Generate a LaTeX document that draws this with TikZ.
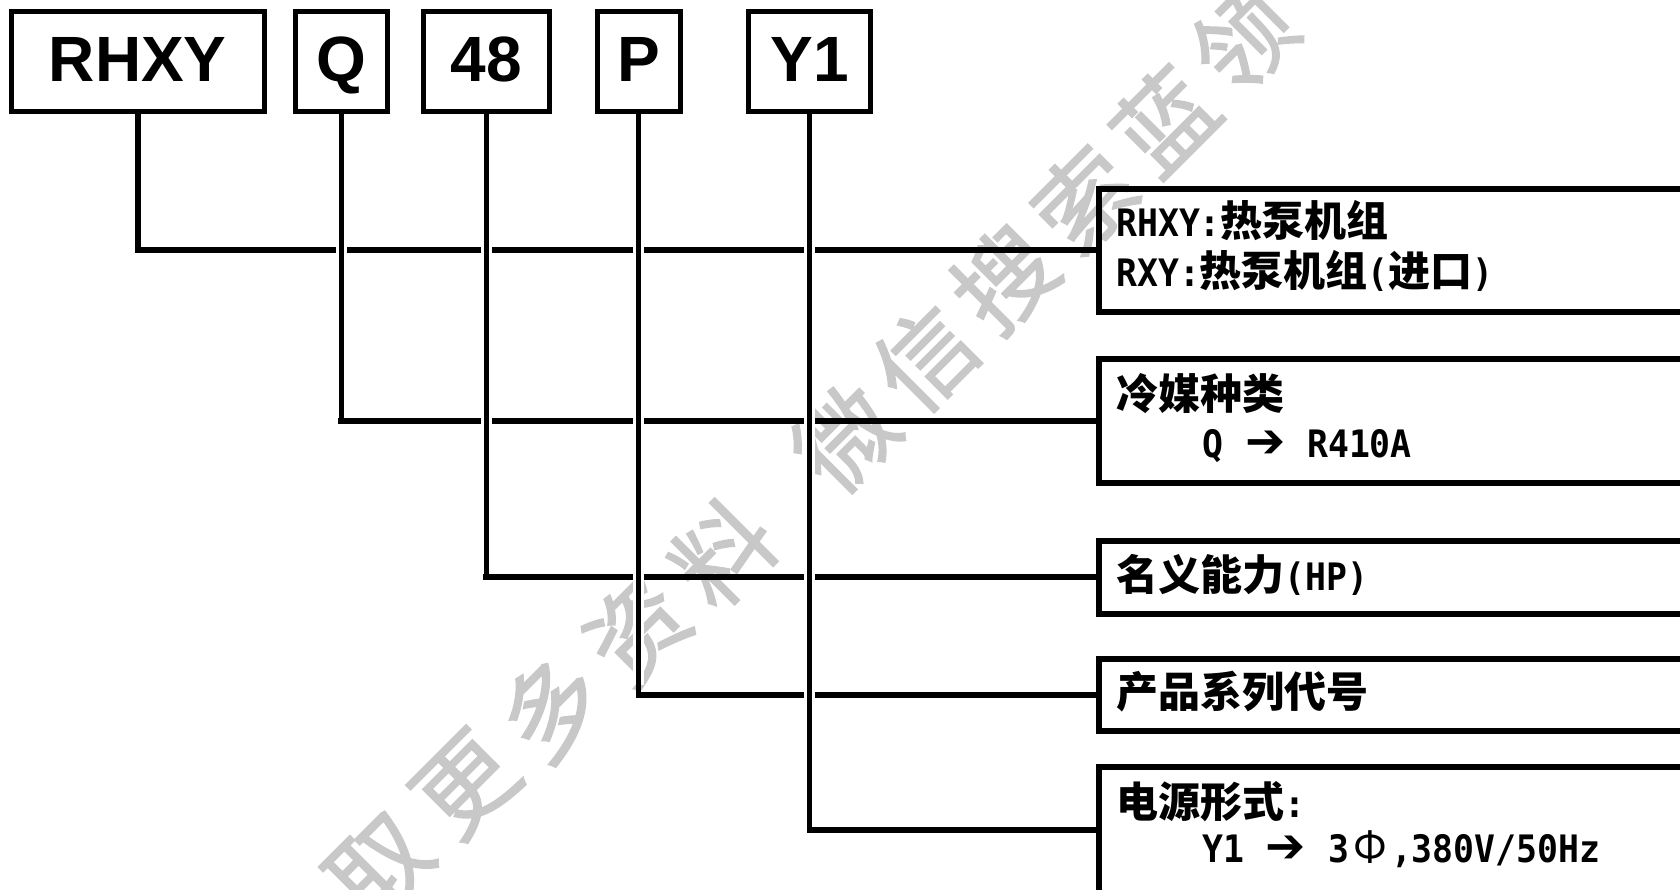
\documentclass[tikz,border=0pt]{standalone}
\usepackage{fontspec}
\setmainfont{Noto Sans CJK SC}
\newfontfamily\cjk{Noto Sans CJK SC}
\newfontfamily\wmfont[FakeBold=1.5]{Noto Sans CJK SC}
\newfontfamily\mlat[Scale=0.9,FakeStretch=0.92]{DejaVu Sans Mono}
\newfontfamily\djv{DejaVu Sans}
\newfontfamily\hdr{Liberation Sans}
\definecolor{wmgray}{RGB}{200,200,200}
\newcommand\mylat[1]{{\mlat\bfseries #1}}
\newcommand\myarrow{\makebox[42pt][c]{\djv\bfseries\fontsize{48}{48}\selectfont ➔}}
\newcommand\myphi{\makebox[42pt][c]{\cjk\mdseries Φ}}
\newcommand\hcol{\hspace{21pt}}
\tikzset{
  codebox/.style={draw, line width=5pt, minimum height=100pt, inner sep=0pt,
    text height=46pt, text depth=6pt,
    font=\hdr\bfseries\fontsize{64}{64}\selectfont},
  descbox/.style={draw, line width=6pt, anchor=west, minimum width=700pt, inner sep=0pt},
  desc/.style={anchor=base west, inner sep=0pt, font=\cjk\bfseries\fontsize{42}{42}\selectfont},
  vlink/.style={line width=5.5pt, line cap=rect},
  hlink/.style={line width=6pt, line cap=rect},
  halo/.style={white, line width=11pt},
  wmark/.style={text=wmgray, font=\wmfont\fontsize{98}{98}\selectfont, rotate=45, inner sep=0pt},
}
\begin{document}
\begin{tikzpicture}[x=1pt,y=-1pt]
\useasboundingbox (0,0) rectangle (1680,890);
\clip (0,0) rectangle (1680,890);
\fill[white] (0,0) rectangle (1680,890);

% watermark
\foreach \ch/\px/\py [count=\k] in {取/380/866,更/466/785,多/551/708,资/637/630,料/723/553,
    微/845/438,信/925/358,搜/1004/279,索/1084/199,蓝/1164/120,领/1243/40}
  \node[wmark] (wm\k) at (\px,\py) {\ch};

% code boxes
\node[codebox, minimum width=253.5pt] (rhxy) at (137.75,62) {RHXY};
\node[codebox, minimum width=91.5pt]  (q)    at (341.25,62) {Q};
\node[codebox, minimum width=125.5pt] (n48)  at (486.25,62) {48};
\node[codebox, minimum width=83pt]    (p)    at (638.5,62)  {P};
\node[codebox, minimum width=122pt]   (y1)   at (809.5,62)  {Y1};

% description boxes
\node[descbox, minimum height=123pt]   (b1) at (1096,250.5) {};
\node[descbox, minimum height=124pt]   (b2) at (1096,421) {};
\node[descbox, minimum height=72.5pt]  (b3) at (1096,577.25) {};
\node[descbox, minimum height=72pt]    (b4) at (1096,694.5) {};
\node[descbox, minimum height=127.5pt] (b5) at (1096,830.25) {};

% texts
\node[desc] (t1a) at (1116,237) {\mylat{RHXY:}热泵机组};
\node[desc] (t1b) at (1116,287) {\mylat{RXY:}热泵机组\mylat{(}进口\mylat{)}};
\node[desc] (t2a) at (1116,409) {冷媒种类};
\node[desc] (t2b) at (1202,457) {\mylat{Q}\hcol\myarrow\hcol\mylat{R410A}};
\node[desc] (t3)  at (1116,590) {名义能力\mylat{(HP)}};
\node[desc] (t4)  at (1116,707) {产品系列代号};
\node[desc] (t5a) at (1116,817) {电源形式\mylat{:}};
\node[desc] (t5b) at (1202,862) {\mylat{Y1}\hcol\myarrow\hcol\mylat{3}\myphi\mylat{,380V/50Hz}};

% connectors
\foreach \s/\b [count=\k] in {rhxy/b1,q/b2,n48/b3,p/b4,y1/b5}
  \coordinate (c\k) at (\s.south |- \b.west);
\foreach \s/\b [count=\k] in {rhxy/b1,q/b2,n48/b3,p/b4,y1/b5}
  \draw[hlink] (c\k) -- (\b.west);
\foreach \s/\b [count=\k] in {rhxy/b1,q/b2,n48/b3,p/b4,y1/b5}
  \draw[halo] ([yshift=-8pt]\s.south) -- ([yshift=10pt]c\k);
\foreach \s/\b [count=\k] in {rhxy/b1,q/b2,n48/b3,p/b4,y1/b5}
  \draw[vlink] (\s.south) -- (c\k);
\end{tikzpicture}
\end{document}
